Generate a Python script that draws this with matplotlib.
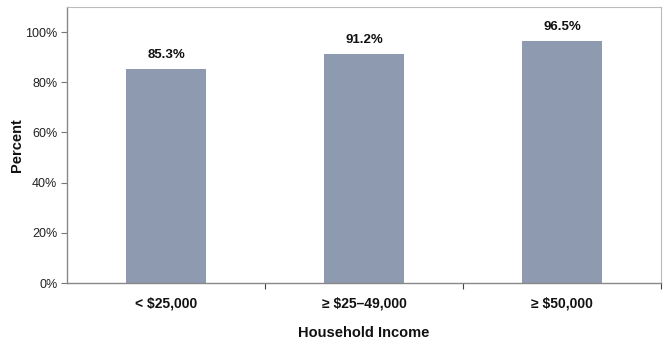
import matplotlib
matplotlib.use("Agg")
import matplotlib.pyplot as plt
from matplotlib.ticker import FuncFormatter

plt.rcParams['font.family'] = ['Liberation Sans', 'DejaVu Sans']

categories = ["< $25,000", "≥ $25–49,000", "≥ $50,000"]
values = [85.3, 91.2, 96.5]
value_labels = ["85.3%", "91.2%", "96.5%"]
yticks = [0, 20, 40, 60, 80, 100]

fig = plt.figure(figsize=(6.66, 3.43), dpi=100)
ax = fig.add_axes([67 / 666, 1 - 283 / 343, (661 - 67) / 666, (283 - 7) / 343])

x = list(range(len(categories)))
ax.bar(x, values, width=0.4, color="#8e9ab0", edgecolor="none", zorder=2)

for xi, v, lab in zip(x, values, value_labels):
    ax.annotate(lab, (xi, v), xytext=(0, 6), textcoords="offset points",
                ha="center", va="bottom", fontsize=9.5, fontweight="bold", color="#111111")

ax.set_xlim(-0.5, 2.5)
ax.set_ylim(0, 110)
ax.set_yticks(yticks)
ax.yaxis.set_major_formatter(FuncFormatter(lambda v, p: f"{v:.0f}%"))
ax.tick_params(axis="y", labelsize=9, length=4, color="#777777", labelcolor="#222222", pad=3)

# category labels centered under bars, tick marks at the group boundaries
ax.set_xticks([0.5, 1.5, 2.5])
ax.set_xticklabels([])
ax.set_xticks(x, minor=True)
ax.set_xticklabels(categories, minor=True, fontsize=10, fontweight="bold", color="#111111")
ax.tick_params(axis="x", which="minor", length=0, pad=10)
ax.tick_params(axis="x", which="major", length=4, color="#444444", direction="out")

for side in ("top", "right"):
    ax.spines[side].set_color("#bbbbbb")
    ax.spines[side].set_linewidth(0.8)
for side in ("left", "bottom"):
    ax.spines[side].set_color("#888888")
    ax.spines[side].set_linewidth(1.0)

ax.set_ylabel("Percent", fontsize=10.5, fontweight="bold", color="#111111", labelpad=1)
ax.set_xlabel("Household Income", fontsize=10.5, fontweight="bold", color="#111111", labelpad=11)

fig.savefig("out.png", dpi=100)
